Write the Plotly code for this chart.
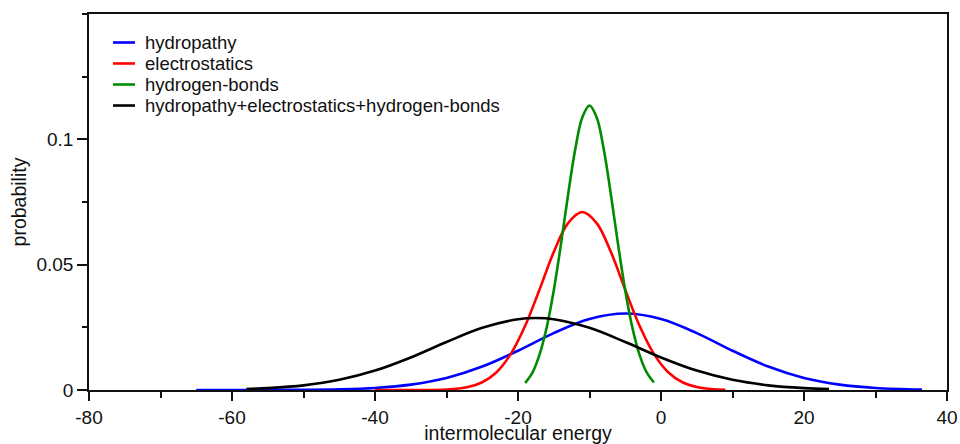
import plotly.graph_objects as go

# ---- data ----
series_names = ["hydropathy", "electrostatics", "hydrogen-bonds",
                "hydropathy+electrostatics+hydrogen-bonds"]
series_colors = ["#0000ff", "#ff0000", "#008b00", "#000000"]

hydropathy_x = [-65, -60, -55, -50, -45, -40, -35, -30, -25, -20, -15, -10, -5,
                0, 5, 10, 15, 20, 25, 30, 36.5]
hydropathy_y = [0.0000, 0.0000, 0.00002, 0.00008, 0.00027, 0.00082, 0.00213,
                0.0048, 0.00935, 0.01567, 0.0227, 0.0283, 0.0305, 0.0283,
                0.0227, 0.01567, 0.00935, 0.0048, 0.00213, 0.00082, 0.00019]

electro_x = [-40, -35, -30, -27, -25, -23, -21, -19, -17, -15, -13, -11, -9,
             -7, -5, -3, -1, 1, 3, 5, 7, 9]
electro_y = [0.0000, 0.0000, 0.0002, 0.0012, 0.0031, 0.0071, 0.0144, 0.0256,
             0.0400, 0.0550, 0.0666, 0.0710, 0.0666, 0.0550, 0.0400, 0.0256,
             0.0144, 0.0071, 0.0031, 0.0012, 0.0004, 0.0001]

hbond_x = [-19, -18, -17, -16, -15, -14, -13, -12, -11, -10, -9, -8, -7, -6,
           -5, -4, -3, -2, -1]
hbond_y = [0.0028, 0.0068, 0.0140, 0.0248, 0.0397, 0.0580, 0.0778, 0.0959,
           0.1088, 0.1135, 0.1088, 0.0959, 0.0778, 0.0580, 0.0397, 0.0248,
           0.0140, 0.0070, 0.0030]

combined_x = [-58, -55, -50, -45, -40, -35, -30, -25, -20, -17.5, -15, -10,
              -5, 0, 5, 10, 15, 20, 23.5]
combined_y = [0.0004, 0.00075, 0.00186, 0.00405, 0.00774, 0.01298, 0.01915,
              0.02481, 0.02824, 0.0287, 0.02824, 0.02481, 0.01915, 0.01298,
              0.00774, 0.00405, 0.00186, 0.00075, 0.00037]

x_tickvals = [-80, -60, -40, -20, 0, 20, 40]
x_ticktext = ["-80", "-60", "-40", "-20", "0", "20", "40"]
y_tickvals = [0, 0.05, 0.1]
y_ticktext = ["0", "0.05", "0.1"]

FONT = "Liberation Sans, Arial, Helvetica, sans-serif"

fig = go.Figure()
all_x = [hydropathy_x, electro_x, hbond_x, combined_x]
all_y = [hydropathy_y, electro_y, hbond_y, combined_y]
for name, color, xs, ys in zip(series_names, series_colors, all_x, all_y):
    fig.add_trace(go.Scatter(
        x=xs, y=ys, name=name, mode="lines",
        line=dict(color=color, width=2.6, shape="spline", smoothing=1.0),
        showlegend=False,
    ))

# custom legend (compact spacing, like the reference)
leg_y = [0.9242, 0.8684, 0.8125, 0.7566]
for name, color, yy in zip(series_names, series_colors, leg_y):
    fig.add_shape(type="line", xref="paper", yref="paper",
                  x0=0.028, x1=0.0536, y0=yy, y1=yy,
                  line=dict(color=color, width=2.6))
    fig.add_annotation(xref="paper", yref="paper", x=0.0635, y=yy,
                       xanchor="left", yanchor="middle", showarrow=False,
                       text=name, font=dict(family=FONT, size=18.5, color="#111"))

axis_common = dict(
    showline=True, linecolor="#111", linewidth=1.6, mirror=True,
    showgrid=False, zeroline=False, ticks="outside", tickcolor="#111",
    tickwidth=1.5, tickfont=dict(family=FONT, size=19, color="#111"),
    automargin=False,
)

fig.update_xaxes(
    range=[-80, 40], tickvals=x_tickvals, ticktext=x_ticktext, ticklen=9,
    minor=dict(dtick=10, tick0=0, ticklen=6, ticks="outside",
               tickcolor="#111", tickwidth=1.5, showgrid=False),
    title=dict(text="intermolecular energy", standoff=3,
               font=dict(family=FONT, size=19.5, color="#111")),
    **axis_common,
)
fig.update_yaxes(
    range=[0, 0.15], tickvals=y_tickvals, ticktext=y_ticktext, ticklen=10,
    minor=dict(dtick=0.025, tick0=0, ticklen=5, ticks="outside",
               tickcolor="#111", tickwidth=1.5, showgrid=False),
    title=dict(text="probability", standoff=5,
               font=dict(family=FONT, size=19.5, color="#111")),
    **axis_common,
)

fig.update_layout(
    width=960, height=444,
    margin=dict(l=89, r=13, t=14, b=54),
    plot_bgcolor="white", paper_bgcolor="white",
    showlegend=False,
)

fig.write_html("out.html",
               config={"displayModeBar": False},
               post_script="document.body.style.margin='0';"
                           "document.body.style.overflow='hidden';")
